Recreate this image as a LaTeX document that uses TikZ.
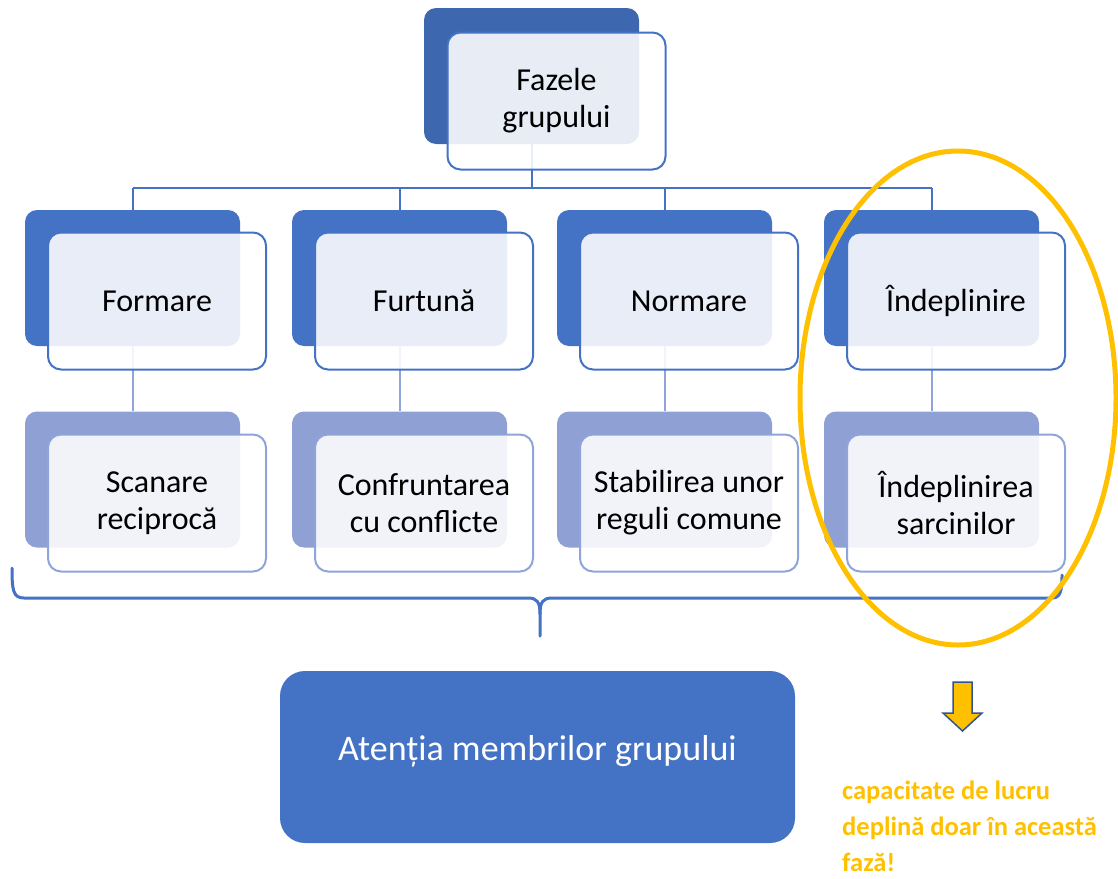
\documentclass[tikz,border=0pt]{standalone}
\usepackage{fontspec}
\setmainfont{Carlito}
\definecolor{topblue}{RGB}{61,103,175}
\definecolor{midblue}{RGB}{68,114,196}
\definecolor{lowblue}{RGB}{142,160,212}
\definecolor{lowline}{RGB}{143,165,218}
\definecolor{gold}{RGB}{255,192,0}
\definecolor{arrowedge}{RGB}{47,85,151}
\begin{document}
\begin{tikzpicture}[x=1pt,y=-1pt,
  backbox/.style={rounded corners=12pt,minimum width=215pt,minimum height=136pt,inner sep=0pt,draw=none},
  frontbox/.style={rounded corners=13pt,minimum width=218pt,minimum height=137pt,inner sep=0pt,
     fill=white,fill opacity=0.88,text opacity=1,line width=2pt,align=center,
     font=\fontsize{32}{37}\selectfont},
  linkA/.style={draw=midblue,line width=2pt},
  linkB/.style={draw=lowline,line width=2pt}]
\useasboundingbox (0,0) rectangle (1118,878);
% top
\node[backbox,fill=topblue] (tb) at (531.5,76) {};
% level 2 / 3 back boxes
\foreach \i/\x in {1/132.5,2/399.5,3/664.5,4/931.5}{
  \node[backbox,fill=midblue] (b\i) at (\x,278) {};
  \node[backbox,fill=lowblue] (l\i) at (\x,479.5) {};
}
\coordinate (bus) at (0,188);
% connectors
\draw[linkA] (tb.south) -- (tb.south |- bus);
\draw[linkA] (b1.north |- bus) -- (b4.north |- bus);
\foreach \i in {1,2,3,4}{
  \draw[linkA] (b\i.north |- bus) -- (b\i.north);
  \draw[linkB] (b\i.south) -- (l\i.north);
}
% front boxes
\node[frontbox,draw=midblue] (tf) at (556.5,101) {Fazele\\grupului};
\node[frontbox,draw=midblue] (f1) at (157,301) {Formare};
\node[frontbox,draw=midblue] (f2) at (424,301) {Furtună};
\node[frontbox,draw=midblue] (f3) at (689,301) {Normare};
\node[frontbox,draw=midblue] (f4) at (956,301) {Îndeplinire};
\node[frontbox,draw=lowline] (g1) at (157,503) {Scanare\\reciprocă};
\node[frontbox,draw=lowline] (g2) at (424,503) {Confruntarea\\cu conflicte};
\node[frontbox,draw=lowline] (g3) at (689,503) {Stabilirea unor\\reguli comune};
\node[frontbox,draw=lowline] (g4) at (956,503) {Îndeplinirea\\sarcinilor};
% brace
\draw[midblue,line width=3pt,line cap=round]
  (12,568) .. controls (12,590) and (13,598) .. (24,598) -- (528,598)
  .. controls (537,598) and (540,602) .. (540,614) -- (540,636);
\draw[midblue,line width=3pt,line cap=round]
  (540,614) .. controls (540,602) and (543,598) .. (552,598) -- (1052,598)
  .. controls (1060,598) and (1062,592) .. (1062,575);
% bottom box
\node[fill=midblue,rounded corners=25pt,minimum width=515pt,minimum height=172pt] (att) at (537.5,757) {};
\node[text=white,font=\fontsize{36}{42}\selectfont] (attlabel) at ([yshift=6pt]att.center) {Atenția membrilor grupului};
% ellipse
\draw[gold,line width=5pt] (958,398) ellipse [x radius=158, y radius=247];
% arrow
\draw[fill=gold,draw=arrowedge,line width=1.5pt,line join=miter]
  (953,682) -- (972,682) -- (972,713) -- (982,713) -- (962.5,731) -- (943,713) -- (953,713) -- cycle;
\node[anchor=north west,inner sep=0pt,align=left,text=gold,
  font=\bfseries\fontsize{26.5}{36}\selectfont] (note) at (842,781)
  {capacitate de lucru\\deplină doar în această\\fază!};
\end{tikzpicture}
\end{document}
